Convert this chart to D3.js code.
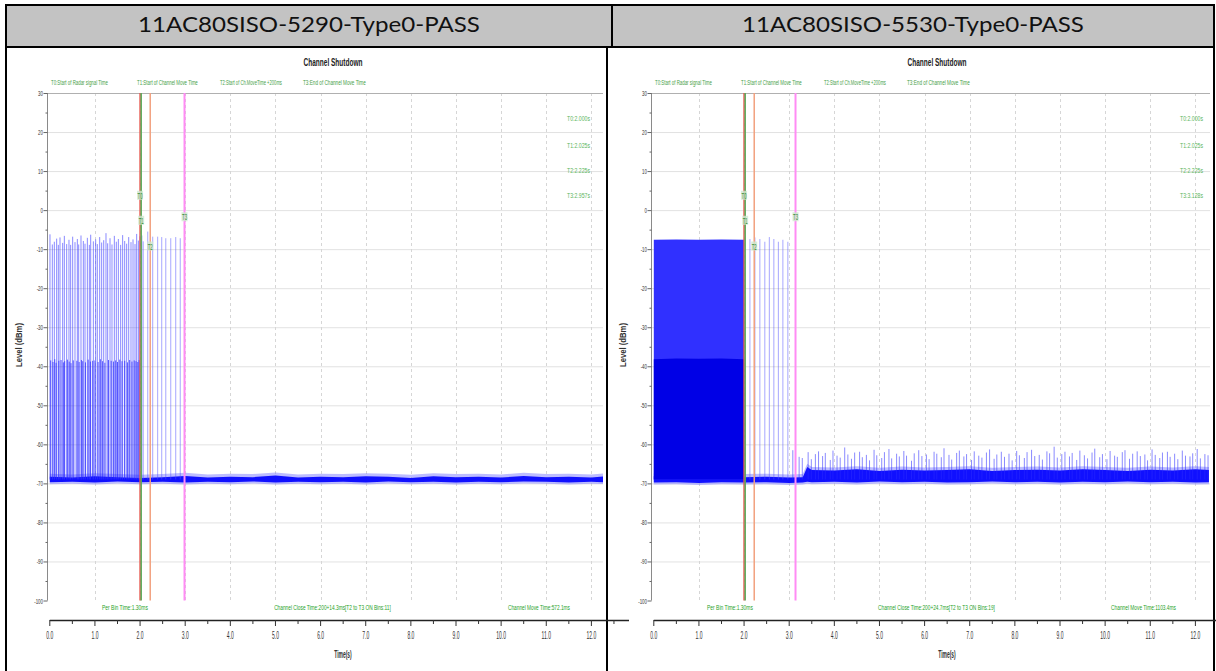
<!DOCTYPE html>
<html><head><meta charset="utf-8">
<script src="https://cdn.jsdelivr.net/npm/d3@7"></script>
<style>body{margin:0;background:#fff;} svg{display:block}</style>
</head><body>
<svg id="c" width="1216" height="671"></svg>
<script>
// ---------------- DATA ----------------
const panelTitles = ["11AC80SISO-5290-Type0-PASS", "11AC80SISO-5530-Type0-PASS"];
const chartTitle = "Channel Shutdown";
const markerNames = ["T0", "T1", "T2", "T3"];
const legendLabels = ["T0:Start of Radar signal Time", "T1:Start of Channel Move Time", "T2:Start of Ch.MoveTime +200ms", "T3:End of Channel Move Time"];
const leftMarkerTimes = [2.000, 2.025, 2.225, 2.985];
const rightMarkerTimes = [2.000, 2.025, 2.225, 3.140];
const leftMarkerText = ["T0:2.000s", "T1:2.025s", "T2:2.225s", "T3:2.957s"];
const rightMarkerText = ["T0:2.000s", "T1:2.025s", "T2:2.225s", "T3:3.128s"];
const leftFooter = ["Per Bin Time:1.30ms", "Channel Close Time:200+14.3ms[T2 to T3 ON Bins:11]", "Channel Move Time:572.1ms"];
const rightFooter = ["Per Bin Time:1.30ms", "Channel Close Time:200+24.7ms[T2 to T3 ON Bins:19]", "Channel Move Time:1103.4ms"];
const yTicks = [30, 20, 10, 0, -10, -20, -30, -40, -50, -60, -70, -80, -90, -100];
const xTicks = [0, 1, 2, 3, 4, 5, 6, 7, 8, 9, 10, 11, 12];
const xTickLabels = ["0.0","1.0","2.0","3.0","4.0","5.0","6.0","7.0","8.0","9.0","10.0","11.0","12.0"];
const yLabel = "Level (dBm)";
const xLabel = "Time(s)";

// noise floor envelope (dBm)
const leftFloorT  = [0, 0.5, 1, 1.5, 2, 2.5, 3, 3.5, 4, 4.5, 5, 5.5, 6, 6.5, 7, 7.5, 8, 8.5, 9, 9.5, 10, 10.5, 11, 11.5, 12, 12.3];
const leftFloorHi = [-68.3, -68.5, -68.2, -68.4, -68.6, -68.4, -68.1, -68.5, -68.3, -68.4, -68.0, -68.5, -68.3, -68.4, -68.2, -68.3, -68.6, -68.2, -68.4, -68.3, -68.5, -68.1, -68.4, -68.3, -68.5, -68.2];
const leftFloorLo = [-69.7, -69.6, -69.8, -69.5, -69.7, -69.6, -69.8, -69.6, -69.7, -69.5, -69.8, -69.6, -69.7, -69.6, -69.8, -69.5, -69.7, -69.6, -69.8, -69.6, -69.7, -69.5, -69.6, -69.8, -69.6, -69.7];
const rightFloorT  = [0, 0.5, 1, 1.5, 2, 2.5, 3, 3.3, 3.4, 3.5, 4, 4.5, 5, 5.5, 6, 6.5, 7, 7.5, 8, 8.5, 9, 9.5, 10, 10.5, 11, 11.5, 12, 12.3];
const rightFloorHi = [-68.2, -68.3, -68.1, -68.2, -68.4, -68.3, -68.5, -68.4, -65.8, -66.6, -66.7, -66.4, -66.8, -66.5, -66.7, -66.6, -66.4, -66.8, -66.6, -66.5, -66.7, -66.4, -66.6, -66.8, -66.5, -66.7, -66.4, -66.6];
const rightFloorLo = [-69.8, -69.7, -69.9, -69.7, -69.8, -69.7, -69.9, -69.8, -69.6, -69.7, -69.6, -69.8, -69.5, -69.7, -69.6, -69.8, -69.7, -69.5, -69.7, -69.6, -69.8, -69.6, -69.7, -69.5, -69.7, -69.6, -69.8, -69.7];

// left: radar bins before T0, reaching near -7 dBm
const leftPulseT = [0.004, 0.056, 0.100, 0.152, 0.189, 0.226, 0.285, 0.322, 0.374, 0.425, 0.462, 0.507, 0.558, 0.610, 0.640, 0.691, 0.743, 0.780, 0.832, 0.876, 0.906, 0.965, 1.016, 1.053, 1.105, 1.149, 1.194, 1.245, 1.282, 1.334, 1.378, 1.430, 1.474, 1.519, 1.570, 1.614, 1.659, 1.703, 1.748, 1.799, 1.844, 1.888, 1.925, 1.962, 1.999];
const leftPulseV = [-6.2, -8.8, -8.1, -7.3, -8.9, -7.0, -8.4, -6.6, -8.7, -7.6, -8.9, -6.8, -8.2, -7.4, -8.8, -6.5, -7.9, -8.6, -7.1, -8.9, -6.3, -8.0, -7.5, -8.7, -6.9, -8.3, -7.7, -5.9, -8.5, -7.2, -8.8, -6.6, -8.1, -7.4, -8.9, -6.4, -7.9, -8.6, -6.9, -8.2, -7.5, -8.7, -6.1, -7.8, -6.7];
// left: partial bins reaching about -38 dBm before T0
const leftMidT = [0.02, 0.07, 0.11, 0.14, 0.20, 0.25, 0.30, 0.33, 0.39, 0.43, 0.47, 0.52, 0.60, 0.65, 0.70, 0.73, 0.79, 0.85, 0.90, 0.95, 1.00, 1.07, 1.12, 1.17, 1.22, 1.30, 1.36, 1.41, 1.46, 1.50, 1.55, 1.60, 1.66, 1.72, 1.77, 1.82, 1.87, 1.91, 1.95, 1.98];
const leftMidV = [-38.5, -38.9, -38.2, -39.1, -38.6, -38.4, -39.0, -38.7, -38.3, -38.8, -39.2, -38.5, -38.6, -38.9, -38.4, -38.7, -39.0, -38.3, -38.8, -38.6, -38.5, -38.9, -38.2, -38.7, -39.1, -38.4, -38.6, -38.8, -38.5, -38.9, -38.3, -38.7, -38.6, -39.0, -38.4, -38.8, -38.5, -38.7, -38.9, -38.4];
// left: bins after T0
const leftAfterT = [2.04, 2.07, 2.17, 2.28, 2.39, 2.48, 2.57, 2.68, 2.79, 2.89];
const leftAfterV = [-6.5, -8.0, -5.5, -6.8, -6.8, -6.9, -7.2, -7.2, -6.9, -7.2];

// right: dense burst before T0
const rightBurstT   = [0.0, 0.5, 1.0, 1.5, 2.0];
const rightBurstTop = [-7.6, -7.5, -7.6, -7.5, -7.6];
const rightBurstMid = [-38.2, -38.0, -38.1, -38.0, -38.2];
// right: bins after T0
const rightAfterT = [2.13, 2.24, 2.35, 2.46, 2.56, 2.66, 2.76, 2.86, 2.97];
const rightAfterV = [-7.4, -7.0, -7.4, -8.1, -6.9, -7.4, -8.1, -7.6, -8.1];
// right: low-level spikes after channel move
const rightSpikeT = [3.08, 3.22, 3.29, 3.42, 3.49, 3.58, 3.65, 3.74, 3.80, 3.91, 3.97, 4.06, 4.13, 4.23, 4.30, 4.38, 4.45, 4.56, 4.62, 4.71, 4.78, 4.88, 4.94, 5.05, 5.11, 5.21, 5.27, 5.38, 5.44, 5.54, 5.60, 5.71, 5.77, 5.87, 5.94, 6.04, 6.10, 6.21, 6.27, 6.37, 6.43, 6.54, 6.60, 6.71, 6.77, 6.87, 6.93, 7.04, 7.10, 7.20, 7.27, 7.37, 7.44, 7.54, 7.60, 7.70, 7.77, 7.87, 7.94, 8.04, 8.10, 8.21, 8.27, 8.37, 8.44, 8.54, 8.61, 8.71, 8.77, 8.87, 8.94, 9.04, 9.11, 9.21, 9.27, 9.37, 9.44, 9.54, 9.61, 9.71, 9.77, 9.88, 9.94, 10.04, 10.11, 10.21, 10.27, 10.38, 10.44, 10.54, 10.61, 10.71, 10.78, 10.88, 10.94, 11.04, 11.11, 11.21, 11.27, 11.38, 11.44, 11.54, 11.61, 11.71, 11.78, 11.88, 11.94, 12.04, 12.11, 12.21, 12.28];
const rightSpikeV = [-61.5, -63.2, -63.5, -62.0, -63.8, -62.5, -61.8, -63.0, -62.2, -64.0, -61.6, -62.9, -63.4, -60.8, -62.6, -63.7, -62.1, -61.9, -63.3, -62.7, -64.1, -61.4, -62.8, -63.5, -62.0, -61.2, -63.6, -62.4, -63.1, -61.7, -62.9, -64.2, -62.3, -61.5, -63.0, -62.6, -63.8, -61.9, -62.4, -63.3, -61.0, -62.7, -63.9, -62.2, -61.6, -63.1, -62.5, -64.0, -61.8, -62.9, -63.4, -62.1, -61.3, -63.7, -62.6, -61.9, -63.2, -62.4, -64.1, -61.7, -62.8, -63.5, -62.0, -61.4, -63.0, -62.7, -63.9, -61.8, -62.3, -60.6, -63.4, -62.5, -61.9, -63.1, -62.2, -64.0, -61.6, -62.8, -63.6, -62.1, -61.1, -63.3, -62.5, -63.8, -61.7, -62.9, -63.2, -62.0, -61.5, -63.7, -62.4, -61.8, -63.0, -62.6, -64.1, -61.3, -62.7, -63.5, -62.1, -61.9, -63.2, -62.4, -63.8, -61.6, -62.9, -63.1, -62.3, -61.2, -63.6, -62.5, -62.8];

// ---------------- DRAW ----------------
const svg = d3.select("#c");
const FF = "'Liberation Sans', Arial, sans-serif";
const markerColors = ["#e8584f", "#5aaa5a", "#f2a07e", "#ff8cf4"];
const GREEN = "#46a046";

// text helper: horizontal squeeze done by a scale transform so boxes stay exact
function txt(g, s, x, yb, o) {
  const wrap = g.append("g").attr("transform", `translate(${x},${yb})`);
  const t = wrap.append("text").attr("x", 0).attr("y", 0).text(s)
    .attr("font-family", o.ff || FF).attr("font-size", o.fs)
    .attr("fill", o.fill || "#000").attr("text-anchor", o.anchor || "start");
  if (o.bold) t.attr("font-weight", "bold");
  const l = t.node().getComputedTextLength();
  let sx = 1;
  if (o.w) sx = o.w / l; else if (o.sq) sx = o.sq;
  if (sx !== 1) wrap.attr("transform", `translate(${x},${yb}) scale(${sx},1)`);
  return t;
}

// table frame / header
svg.append("rect").attr("x", 6).attr("y", 5).attr("width", 1208).attr("height", 42).attr("fill", "#c3c3c3");
const frame = svg.append("g").attr("stroke", "#000").attr("stroke-width", 2);
frame.append("line").attr("x1", 5).attr("x2", 1215).attr("y1", 5).attr("y2", 5);
frame.append("line").attr("x1", 5).attr("x2", 1215).attr("y1", 47).attr("y2", 47);
frame.append("line").attr("x1", 6).attr("x2", 6).attr("y1", 4).attr("y2", 671);
frame.append("line").attr("x1", 612).attr("x2", 612).attr("y1", 4).attr("y2", 47);
frame.append("line").attr("x1", 607).attr("x2", 607).attr("y1", 47).attr("y2", 671);
frame.append("line").attr("x1", 1214).attr("x2", 1214).attr("y1", 4).attr("y2", 671);

[309, 913].forEach((cx, i) => {
  txt(svg, panelTitles[i], cx, 32, {fs: 22, anchor: "middle", w: 342, ff: "Lato, 'Open Sans', sans-serif", fill: "#111"});
});

const panels = [
  {off: 0, right: 603, markers: leftMarkerTimes, mtext: leftMarkerText, footer: leftFooter,
   footW: [46, 117, 62], footX: [125, 332.5, 539], floorT: leftFloorT, floorHi: leftFloorHi, floorLo: leftFloorLo, axisEnd: 629},
  {off: 604, right: 1210, markers: rightMarkerTimes, mtext: rightMarkerText, footer: rightFooter,
   footW: [46, 117, 65], footX: [126, 332.5, 539.5], floorT: rightFloorT, floorHi: rightFloorHi, floorLo: rightFloorLo, axisEnd: 612}
];

panels.forEach((p, pi) => {
  const off = p.off;
  const x = d3.scaleLinear().domain([0, 12]).range([49.8 + off, 591.4 + off]);
  const y = d3.scaleLinear().domain([-100, 30]).range([600.5, 93]);
  const left = 47.5 + off, right = p.right, top = y(30), bot = y(-100);
  const g = svg.append("g");

  // title & legend
  txt(g, chartTitle, 333 + off, 66, {fs: 10, anchor: "middle", bold: true, w: 59, fill: "#222"});
  const legX = [51, 137, 220, 303], legW = [57, 61, 62, 63];
  legendLabels.forEach((s, i) => txt(g, s, legX[i] + off, 85, {fs: 8, w: legW[i], fill: GREEN}));

  // grid
  g.append("g").selectAll("line").data(yTicks.filter(v => v !== 30 && v !== -100)).join("line")
    .attr("x1", left).attr("x2", right).attr("y1", d => y(d) + 0.5).attr("y2", d => y(d) + 0.5)
    .attr("stroke", "#c4c4c4").attr("stroke-dasharray", "1,1");
  g.append("g").selectAll("line").data(xTicks.filter(v => v > 0)).join("line")
    .attr("x1", d => Math.round(x(d)) + 0.5).attr("x2", d => Math.round(x(d)) + 0.5).attr("y1", top).attr("y2", bot)
    .attr("stroke", "#d6d6d6").attr("stroke-dasharray", "3,3");
  g.append("line").attr("x1", left).attr("x2", right).attr("y1", top + 0.5).attr("y2", top + 0.5).attr("stroke", "#b0b0b0");

  // y axis
  g.append("line").attr("x1", left).attr("x2", left).attr("y1", top).attr("y2", bot).attr("stroke", "#8a8a8a");
  yTicks.forEach(v => {
    g.append("line").attr("x1", left - 4).attr("x2", left).attr("y1", y(v) + 0.5).attr("y2", y(v) + 0.5).attr("stroke", "#666");
    txt(g, String(v), left - 4.5, y(v) + 3, {fs: 8, anchor: "end", sq: 0.55, fill: "#333"});
    if (v > -100) g.append("line").attr("x1", left - 2).attr("x2", left).attr("y1", y(v - 5) + 0.5).attr("y2", y(v - 5) + 0.5).attr("stroke", "#666");
  });
  const yl = g.append("g").attr("transform", `translate(${22 + off},345) rotate(-90)`);
  txt(yl, yLabel, 0, 0, {fs: 9, anchor: "middle", bold: true, w: 44, fill: "#333"});

  // plot data (clipped)
  const clipId = "clip" + pi;
  svg.append("clipPath").attr("id", clipId).append("rect").attr("x", left + 1).attr("y", top).attr("width", right - left - 1).attr("height", bot - top);
  const pg = g.append("g").attr("clip-path", `url(#${clipId})`);

  const floorArea = d3.area().x((d, i) => x(p.floorT[i])).y0((d, i) => y(p.floorLo[i])).y1((d, i) => y(p.floorHi[i]));
  pg.append("path").datum(p.floorT).attr("d", d3.area().x((d, i) => x(p.floorT[i])).y0((d, i) => y(p.floorLo[i] - 0.5)).y1((d, i) => y(p.floorHi[i] + 0.8)))
    .attr("fill", "#7a7aff").attr("opacity", 0.5);
  pg.append("path").datum(p.floorT).attr("d", floorArea).attr("fill", "#1010ff");

  const pulses = (T, V, color, op, w) => {
    pg.append("g").selectAll("line").data(T).join("line")
      .attr("x1", d => x(d)).attr("x2", d => x(d)).attr("y1", y(-69)).attr("y2", (d, i) => y(V[i]))
      .attr("stroke", color).attr("stroke-opacity", op).attr("stroke-width", w);
  };

  if (pi === 0) {
    pulses(leftMidT, leftMidV, "#2020ff", 0.75, 1);
    pulses(leftPulseT, leftPulseV, "#3a3aff", 0.6, 1);
    pulses(leftAfterT, leftAfterV, "#5050ff", 0.5, 1);
  } else {
    pg.append("path").datum(rightBurstT)
      .attr("d", d3.area().x((d, i) => x(rightBurstT[i])).y0(y(-69)).y1((d, i) => y(rightBurstTop[i])))
      .attr("fill", "#3030ff");
    pg.append("path").datum(rightBurstT)
      .attr("d", d3.area().x((d, i) => x(rightBurstT[i])).y0(y(-69)).y1((d, i) => y(rightBurstMid[i])))
      .attr("fill", "#0000e6");
    pulses(rightAfterT, rightAfterV, "#5050ff", 0.5, 1);
    pulses(rightSpikeT, rightSpikeV, "#2a2aff", 0.55, 1);
  }

  // markers
  const mlY = [3.8, -2.6, -9.2, -1.7];
  p.markers.forEach((t, i) => {
    const xm = x(t);
    g.append("line").attr("x1", xm).attr("x2", xm).attr("y1", top).attr("y2", bot)
      .attr("stroke", markerColors[i]).attr("stroke-width", i === 3 ? 2 : 1.5);
  });
  p.markers.forEach((t, i) => {
    const xm = x(t) - 2.5, ym = y(mlY[i]);
    g.append("rect").attr("x", xm - 0.5).attr("y", ym - 4.5).attr("width", 6).attr("height", 9).attr("fill", "#cfe8cf").attr("opacity", 0.8);
    txt(g, markerNames[i], xm, ym + 3.5, {fs: 9, w: 5, fill: "#3f8f3f"});
  });

  // marker values (right side)
  const mvY = [121, 148, 173, 198];
  p.mtext.forEach((s, i) => txt(g, s, (pi ? 1203 : 590), mvY[i], {fs: 8, anchor: "end", w: 23, fill: "#5cb55c"}));

  // footer stats
  p.footer.forEach((s, i) => txt(g, s, p.footX[i] + off, 610, {fs: 8, anchor: "middle", w: p.footW[i], fill: "#1f9f1f"}));

  // x axis
  const ax = 620;
  g.append("line").attr("x1", x(0)).attr("x2", p.axisEnd + off).attr("y1", ax + 0.5).attr("y2", ax + 0.5).attr("stroke", "#222").attr("stroke-width", 1.5);
  xTicks.forEach((v, i) => {
    g.append("line").attr("x1", x(v)).attr("x2", x(v)).attr("y1", ax).attr("y2", ax + 6).attr("stroke", "#333");
    g.append("line").attr("x1", x(v + 0.5)).attr("x2", x(v + 0.5)).attr("y1", ax).attr("y2", ax + 4).attr("stroke", "#333");
    txt(g, xTickLabels[i], x(v), 639, {fs: 10, anchor: "middle", sq: 0.5, fill: "#333"});
  });
  txt(g, xLabel, 343 + off, 658, {fs: 10, anchor: "middle", w: 17.5, bold: true, fill: "#333"});
});
</script>
</body></html>
